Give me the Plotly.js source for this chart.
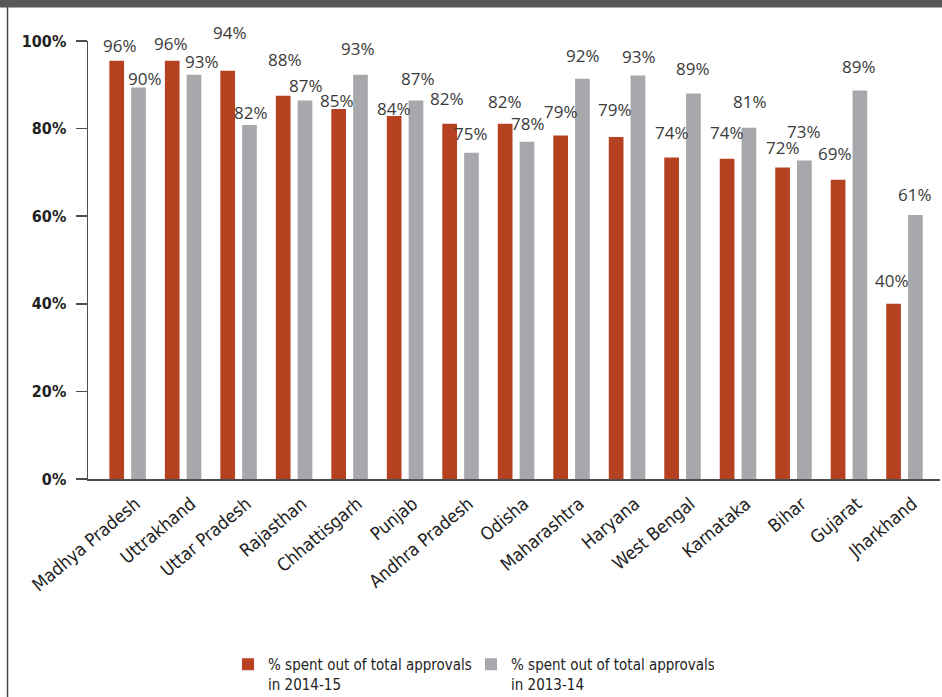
<!DOCTYPE html>
<html>
<head>
<meta charset="utf-8">
<script src="https://cdn.plot.ly/plotly-3.0.1.min.js"></script>
<style>
  html, body { margin: 0; padding: 0; background: #ffffff; }
  #chart { width: 942px; height: 697px; }
</style>
</head>
<body>
<div id="chart"></div>
<script>
// ---- data ----
const categories = ['Madhya Pradesh', 'Uttrakhand', 'Uttar Pradesh', 'Rajasthan', 'Chhattisgarh',
  'Punjab', 'Andhra Pradesh', 'Odisha', 'Maharashtra', 'Haryana', 'West Bengal', 'Karnataka',
  'Bihar', 'Gujarat', 'Jharkhand'];
const spent2014 = [95.5, 95.5, 93.2, 87.5, 84.5, 82.9, 81.1, 81.1, 78.4, 78.1, 73.4, 73.1, 71.1, 68.3, 40.0];
const spent2013 = [89.4, 92.3, 80.8, 86.4, 92.3, 86.4, 74.5, 77.0, 91.4, 92.1, 88.0, 80.2, 72.7, 88.7, 60.3];
const labels2014 = ['96%', '96%', '94%', '88%', '85%', '84%', '82%', '82%', '79%', '79%', '74%', '74%', '72%', '69%', '40%'];
const labels2013 = ['90%', '93%', '82%', '87%', '93%', '87%', '75%', '78%', '92%', '93%', '89%', '81%', '73%', '89%', '61%'];
const seriesNames = ['% spent out of total approvals<br>in 2014-15', '% spent out of total approvals<br>in 2013-14'];
const yTickVals = [0, 20, 40, 60, 80, 100];
const yTickText = ['0%', '20%', '40%', '60%', '80%', '100%'];

// ---- styling / label placement (pixels) ----
const RED = '#b64121', GREY = '#a7a8ac';
const liftRed  = [15, 17, 38, 36, 8, 7, 25, 22, 24, 27, 25, 26, 20, 26, 23];
const liftGrey = [9, 13, 13, 15, 26, 22, 19, 18, 23, 19, 25, 26, 29, 24, 20];
const nudgeRed  = [3, -1, 2, 2, -2, 0, -3, 0, 0, -1, 0, 0, 0, -3, -2];
const nudgeGrey = [6, 8, 2, 1, -2, 2, 0, 1, 1, 1, 0, 1, 0, -1, 0];
const half = 0.196; // half distance between bar centres in category units

const M = {l: 88, r: 2, t: 41, b: 218, autoexpand: false};
const W = 942, H = 697;
const pw = W - M.l - M.r, ph = H - M.t - M.b;
const px2x = p => (p - M.l) / pw;
const px2y = p => (H - M.b - p) / ph;

const condensed = '"DejaVu Sans Condensed", "DejaVu Sans", sans-serif';
const labelFont = {family: '"Open Sans", "Noto Sans", sans-serif', size: 17, color: '#3a3a3a'};

const traces = [
  {type: 'bar', name: seriesNames[0], x: categories, y: spent2014,
   marker: {color: RED}, hoverinfo: 'skip'},
  {type: 'bar', name: seriesNames[1], x: categories, y: spent2013,
   marker: {color: GREY}, hoverinfo: 'skip'}
];

const annotations = [];
categories.forEach((c, i) => {
  annotations.push({x: i - half, y: spent2014[i], xref: 'x', yref: 'y', text: labels2014[i],
    showarrow: false, yanchor: 'middle', xanchor: 'center', yshift: liftRed[i], xshift: nudgeRed[i], font: labelFont});
  annotations.push({x: i + half, y: spent2013[i], xref: 'x', yref: 'y', text: labels2013[i],
    showarrow: false, yanchor: 'middle', xanchor: 'center', yshift: liftGrey[i], xshift: nudgeGrey[i], font: labelFont});
});

const layout = {
  width: W, height: H,
  margin: M,
  paper_bgcolor: '#ffffff', plot_bgcolor: '#ffffff',
  barmode: 'group', bargap: 0.214, bargroupgap: 0.326,
  showlegend: true,
  legend: {orientation: 'h', x: px2x(228), xanchor: 'left', y: px2y(648), yanchor: 'top',
    valign: 'top', entrywidth: 198, entrywidthmode: 'pixels', traceorder: 'normal',
    font: {family: condensed, size: 15, color: '#222222'}, bgcolor: 'rgba(0,0,0,0)'},
  xaxis: {type: 'category', range: [-0.714, 14.64], showgrid: false, zeroline: false,
    showline: true, linecolor: '#4d4d4d', linewidth: 1.5, ticks: '', tickangle: -40,
    ticklabelshift: 8, ticklabelstandoff: 6,
    tickfont: {family: condensed, size: 18, color: '#1e1e1e'}, fixedrange: true},
  yaxis: {range: [0, 100], tickvals: yTickVals, ticktext: yTickText, showgrid: false, zeroline: false,
    showline: true, linecolor: '#4d4d4d', linewidth: 1.5, ticks: 'outside', ticklen: 11,
    tickcolor: '#4d4d4d', tickwidth: 1.5, ticklabelstandoff: 6,
    tickfont: {family: condensed, size: 16, color: '#222222', weight: 'bold'}, fixedrange: true},
  annotations: annotations,
  shapes: [
    {type: 'rect', xref: 'paper', yref: 'paper', x0: px2x(-5), x1: px2x(W + 5), y0: px2y(7.5), y1: px2y(-5),
     fillcolor: '#58585a', line: {width: 0}, layer: 'above'},
    {type: 'line', xref: 'paper', yref: 'paper', x0: px2x(7.5), x1: px2x(7.5), y0: px2y(7), y1: px2y(H + 5),
     line: {color: '#4a4a4a', width: 1.5}, layer: 'above'}
  ]
};

Plotly.newPlot('chart', traces, layout, {displayModeBar: false, staticPlot: true});
</script>
</body>
</html>
